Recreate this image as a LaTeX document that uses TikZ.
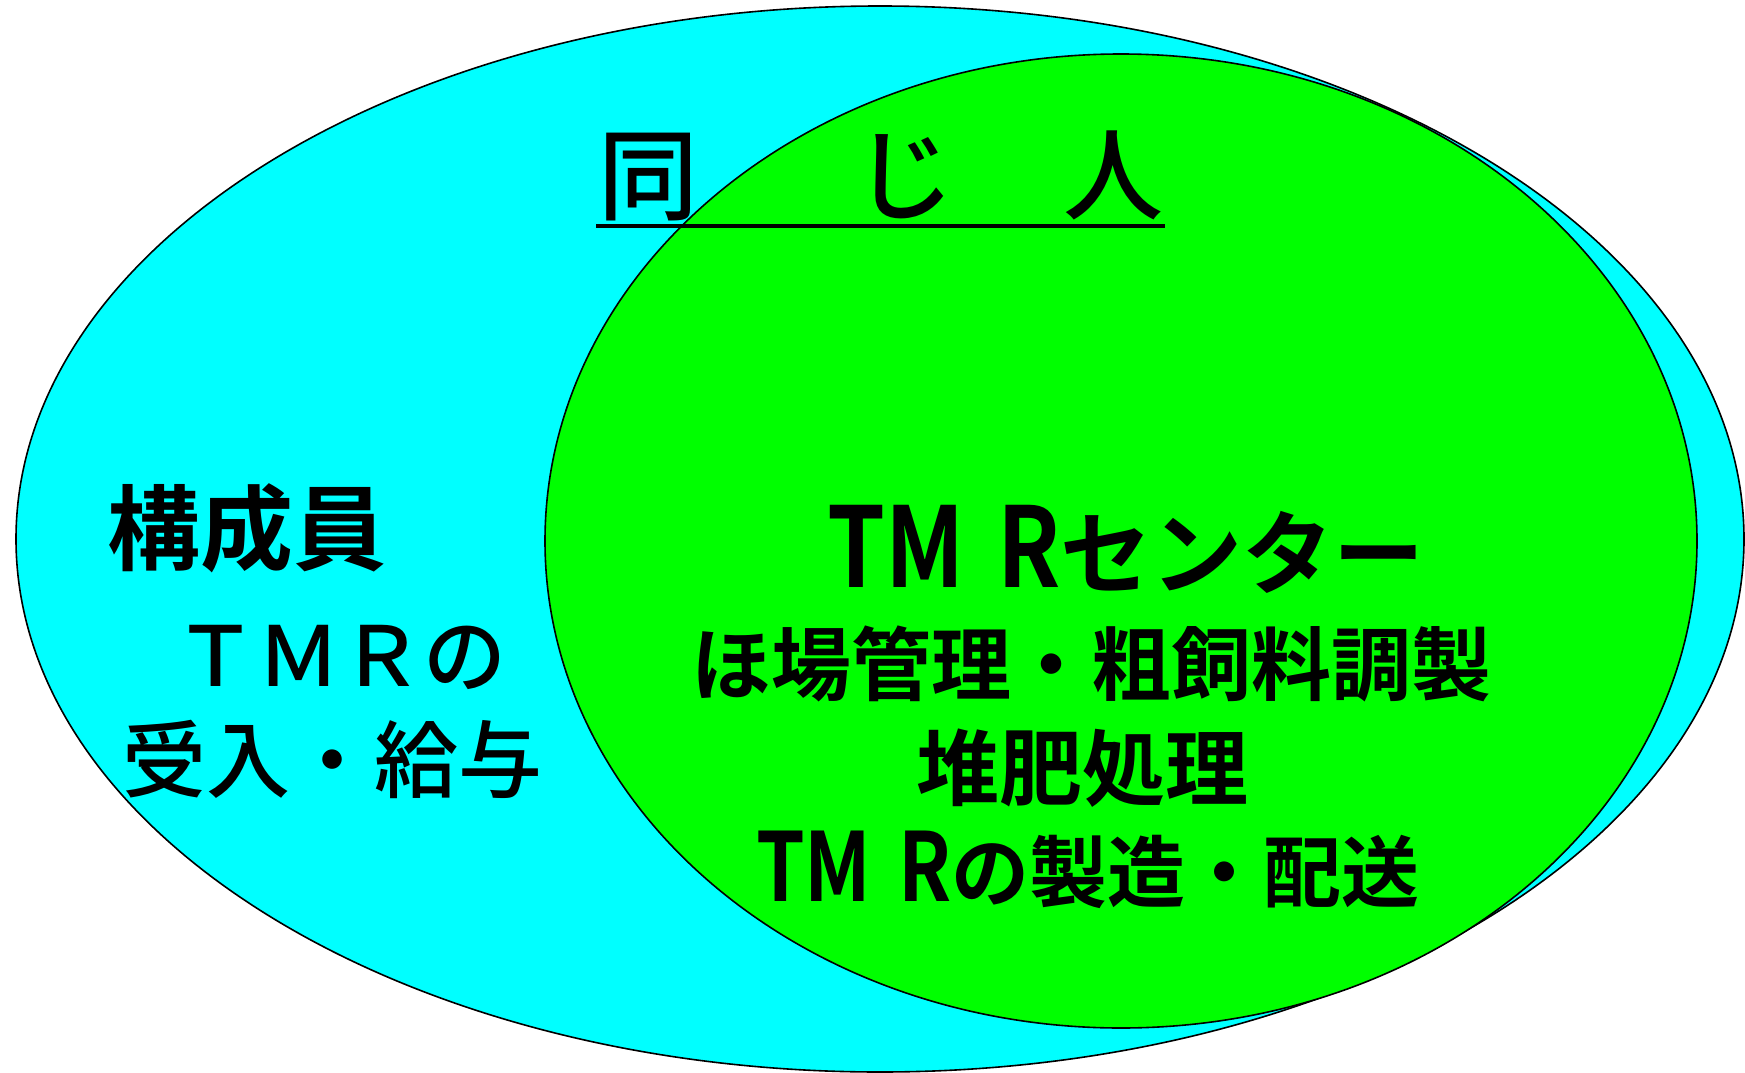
\documentclass[tikz,border=0pt]{standalone}
\usepackage{fontspec}
\usepackage{graphicx}
\newfontfamily\jp{Noto Sans CJK JP Medium}
\newfontfamily\jpb{Noto Sans CJK JP Bold}
\definecolor{cyanfill}{RGB}{0,255,255}
\definecolor{greenfill}{RGB}{0,255,0}
\newcommand{\tallTMR}[1]{\scalebox{#1}[1.22]{TM\hspace{0.35em}R}}
\begin{document}
\begin{tikzpicture}[x=1pt,y=-1pt,
  blob/.style={draw=black,line width=1.6pt},
  lbl/.style={inner sep=0pt,outer sep=0pt,text=black}]
\useasboundingbox (0,0) rectangle (1745,1073);
% ellipses
\path[blob,fill=cyanfill] (880,539) ellipse [x radius=864, y radius=533];
\path[blob,fill=greenfill] (1121,541) ellipse [x radius=576, y radius=487];
% title
\node[lbl,anchor=west] (title) at (598,176) {\fontsize{100}{100}\selectfont\jp 同\hspace{156pt}じ\hspace{109pt}人};
\coordinate (ulA) at (596,226);
\coordinate (ulB) at (1165,226);
\draw[line width=4pt] (ulA) -- (ulB);
% left texts
\node[lbl] (kosei) at (247,528) {\fontsize{93}{93}\selectfont\jpb 構成員};
\node[lbl] (tmrno) at (340,657) {\fontsize{83}{83}\selectfont\jp ＴＭＲの};
\node[lbl] (ukeire) at (332,759) {\fontsize{84}{84}\selectfont\jp 受入・給与};
% right texts
\node[lbl] (center) at (1126,549) {\fontsize{91}{91}\selectfont\jpb \tallTMR{1.02}センター};
\node[lbl] (hojo) at (1091,664) {\fontsize{80}{80}\selectfont\jpb ほ場管理・粗飼料調製};
\node[lbl] (taihi) at (1082,768) {\fontsize{83}{83}\selectfont\jpb 堆肥処理};
\node[lbl] (seizo) at (1088,870) {\fontsize{78}{78}\selectfont\jpb \tallTMR{1.0}の製造・配送};
\end{tikzpicture}
\end{document}
